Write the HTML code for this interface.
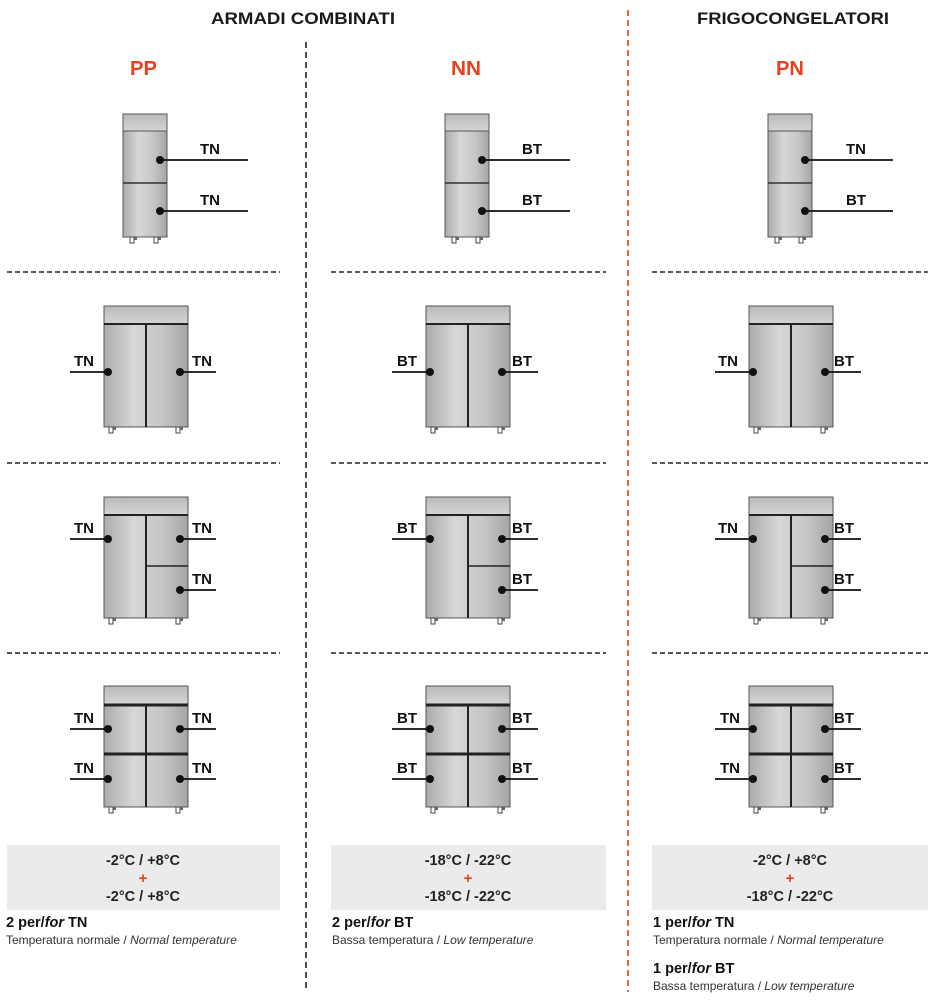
<!DOCTYPE html>
<html><head><meta charset="utf-8"><style>
html,body{margin:0;padding:0;background:#fff;width:934px;height:1000px;overflow:hidden}
svg{display:block}
text{font-family:"Liberation Sans",Arial,sans-serif;font-weight:bold}
.h{font-size:17px;fill:#1a1a1a}
.r{font-size:20px;fill:#e8401c}
.l{font-size:15px;fill:#111}
.t{font-size:14.5px;fill:#222;text-anchor:middle}
.p{font-size:15px;fill:#e8401c;text-anchor:middle}
.b{font-size:14.5px;fill:#111}
.s{font-size:12px;font-weight:normal;fill:#333}
</style></head><body>
<svg width="934" height="1000" viewBox="0 0 934 1000" xmlns="http://www.w3.org/2000/svg">
<defs>
<linearGradient id="g" x1="0" x2="1" y1="0" y2="0">
<stop offset="0" stop-color="#a9abad"/><stop offset="0.35" stop-color="#d6d7d9"/><stop offset="0.7" stop-color="#c4c5c7"/><stop offset="1" stop-color="#a3a5a7"/>
</linearGradient>
<linearGradient id="gt" x1="0" x2="0" y1="0" y2="1">
<stop offset="0" stop-color="#b9babc"/><stop offset="1" stop-color="#d3d4d6"/>
</linearGradient>
<g id="foot"><rect x="0" y="0" width="4" height="6" fill="#fff" stroke="#444" stroke-width="1"/><rect x="4" y="0" width="3" height="3" fill="#666"/></g>
<g id="c1">
<rect x="123" y="114" width="44" height="123" fill="url(#g)" stroke="#555" stroke-width="1"/>
<rect x="123" y="114" width="44" height="17" fill="url(#gt)" stroke="#555" stroke-width="1"/>
<line x1="123" y1="183" x2="167" y2="183" stroke="#333" stroke-width="1.5"/>
<use href="#foot" x="130" y="237"/><use href="#foot" x="154" y="237"/>
<line x1="160" y1="160" x2="248" y2="160" stroke="#111" stroke-width="1.8"/>
<line x1="160" y1="211" x2="248" y2="211" stroke="#111" stroke-width="1.8"/>
<circle cx="160" cy="160" r="4" fill="#111"/><circle cx="160" cy="211" r="4" fill="#111"/>
</g>
<g id="c2">
<rect x="104" y="306" width="84" height="121" fill="url(#g)" stroke="#555" stroke-width="1"/>
<rect x="104" y="306" width="84" height="18" fill="url(#gt)" stroke="#555" stroke-width="1"/>
<line x1="104" y1="324" x2="188" y2="324" stroke="#222" stroke-width="2"/>
<line x1="146" y1="324" x2="146" y2="427" stroke="#222" stroke-width="2"/>
<use href="#foot" x="109" y="427"/><use href="#foot" x="176" y="427"/>
<line x1="70" y1="372" x2="108" y2="372" stroke="#111" stroke-width="1.8"/>
<line x1="180" y1="372" x2="216" y2="372" stroke="#111" stroke-width="1.8"/>
<circle cx="108" cy="372" r="4" fill="#111"/><circle cx="180" cy="372" r="4" fill="#111"/>
</g>
<g id="c3">
<rect x="104" y="497" width="84" height="121" fill="url(#g)" stroke="#555" stroke-width="1"/>
<rect x="104" y="497" width="84" height="18" fill="url(#gt)" stroke="#555" stroke-width="1"/>
<line x1="104" y1="515" x2="188" y2="515" stroke="#222" stroke-width="2"/>
<line x1="146" y1="515" x2="146" y2="618" stroke="#222" stroke-width="2"/>
<line x1="146" y1="566" x2="188" y2="566" stroke="#222" stroke-width="1.5"/>
<use href="#foot" x="109" y="618"/><use href="#foot" x="176" y="618"/>
<line x1="70" y1="539" x2="108" y2="539" stroke="#111" stroke-width="1.8"/>
<line x1="180" y1="539" x2="216" y2="539" stroke="#111" stroke-width="1.8"/>
<line x1="180" y1="590" x2="216" y2="590" stroke="#111" stroke-width="1.8"/>
<circle cx="108" cy="539" r="4" fill="#111"/><circle cx="180" cy="539" r="4" fill="#111"/><circle cx="180" cy="590" r="4" fill="#111"/>
</g>
<g id="c4">
<rect x="104" y="686" width="84" height="121" fill="url(#g)" stroke="#555" stroke-width="1"/>
<rect x="104" y="686" width="84" height="18" fill="url(#gt)" stroke="#555" stroke-width="1"/>
<line x1="104" y1="705" x2="188" y2="705" stroke="#222" stroke-width="3"/>
<line x1="104" y1="754" x2="188" y2="754" stroke="#222" stroke-width="3"/>
<line x1="146" y1="705" x2="146" y2="807" stroke="#222" stroke-width="2"/>
<use href="#foot" x="109" y="807"/><use href="#foot" x="176" y="807"/>
<line x1="70" y1="729" x2="108" y2="729" stroke="#111" stroke-width="1.8"/>
<line x1="180" y1="729" x2="216" y2="729" stroke="#111" stroke-width="1.8"/>
<line x1="70" y1="779" x2="108" y2="779" stroke="#111" stroke-width="1.8"/>
<line x1="180" y1="779" x2="216" y2="779" stroke="#111" stroke-width="1.8"/>
<circle cx="108" cy="729" r="4" fill="#111"/><circle cx="180" cy="729" r="4" fill="#111"/>
<circle cx="108" cy="779" r="4" fill="#111"/><circle cx="180" cy="779" r="4" fill="#111"/>
</g>
</defs>

<text class="h" x="211" y="24" textLength="184" lengthAdjust="spacingAndGlyphs">ARMADI COMBINATI</text>
<text class="h" x="697" y="24" textLength="192" lengthAdjust="spacingAndGlyphs">FRIGOCONGELATORI</text>
<text class="r" x="130" y="75" textLength="27" lengthAdjust="spacingAndGlyphs">PP</text>
<text class="r" x="451" y="75" textLength="30" lengthAdjust="spacingAndGlyphs">NN</text>
<text class="r" x="776" y="75" textLength="28" lengthAdjust="spacingAndGlyphs">PN</text>

<line x1="306" y1="42" x2="306" y2="992" stroke="#222" stroke-width="1.6" stroke-dasharray="6,4"/>
<line x1="628" y1="10" x2="628" y2="992" stroke="#e85a20" stroke-width="1.8" stroke-dasharray="6,4"/>

<g stroke="#222" stroke-width="1.5" stroke-dasharray="5,3">
<line x1="7" y1="272" x2="280" y2="272"/><line x1="331" y1="272" x2="606" y2="272"/><line x1="652" y1="272" x2="928" y2="272"/>
<line x1="7" y1="463" x2="280" y2="463"/><line x1="331" y1="463" x2="606" y2="463"/><line x1="652" y1="463" x2="928" y2="463"/>
<line x1="7" y1="653" x2="280" y2="653"/><line x1="331" y1="653" x2="606" y2="653"/><line x1="652" y1="653" x2="928" y2="653"/>
</g>

<use href="#c1"/><use href="#c2"/><use href="#c3"/><use href="#c4"/>
<g transform="translate(322,0)"><use href="#c1"/><use href="#c2"/><use href="#c3"/><use href="#c4"/></g>
<g transform="translate(645,0)"><use href="#c1"/><use href="#c2"/><use href="#c3"/><use href="#c4"/></g>

<text class="l" x="200" y="154">TN</text><text class="l" x="200" y="205">TN</text>
<text class="l" x="74" y="366">TN</text><text class="l" x="192" y="366">TN</text>
<text class="l" x="74" y="533">TN</text><text class="l" x="192" y="533">TN</text><text class="l" x="192" y="584">TN</text>
<text class="l" x="74" y="723">TN</text><text class="l" x="192" y="723">TN</text><text class="l" x="74" y="773">TN</text><text class="l" x="192" y="773">TN</text>
<text class="l" x="522" y="154">BT</text><text class="l" x="522" y="205">BT</text>
<text class="l" x="397" y="366">BT</text><text class="l" x="512" y="366">BT</text>
<text class="l" x="397" y="533">BT</text><text class="l" x="512" y="533">BT</text><text class="l" x="512" y="584">BT</text>
<text class="l" x="397" y="723">BT</text><text class="l" x="512" y="723">BT</text><text class="l" x="397" y="773">BT</text><text class="l" x="512" y="773">BT</text>
<text class="l" x="846" y="154">TN</text><text class="l" x="846" y="205">BT</text>
<text class="l" x="718" y="366">TN</text><text class="l" x="834" y="366">BT</text>
<text class="l" x="718" y="533">TN</text><text class="l" x="834" y="533">BT</text><text class="l" x="834" y="584">BT</text>
<text class="l" x="720" y="723">TN</text><text class="l" x="834" y="723">BT</text><text class="l" x="720" y="773">TN</text><text class="l" x="834" y="773">BT</text>

<rect x="7" y="845" width="273" height="65" fill="#ebebeb"/>
<rect x="331" y="845" width="275" height="65" fill="#ebebeb"/>
<rect x="652" y="845" width="276" height="65" fill="#ebebeb"/>
<text class="t" x="143" y="865">-2°C / +8°C</text><text class="p" x="143" y="883">+</text><text class="t" x="143" y="901">-2°C / +8°C</text>
<text class="t" x="468" y="865">-18°C / -22°C</text><text class="p" x="468" y="883">+</text><text class="t" x="468" y="901">-18°C / -22°C</text>
<text class="t" x="790" y="865">-2°C / +8°C</text><text class="p" x="790" y="883">+</text><text class="t" x="790" y="901">-18°C / -22°C</text>

<text class="b" x="6" y="927">2 per/<tspan font-style="italic">for</tspan> TN</text>
<text class="s" x="6" y="944">Temperatura normale / <tspan font-style="italic">Normal temperature</tspan></text>
<text class="b" x="332" y="927">2 per/<tspan font-style="italic">for</tspan> BT</text>
<text class="s" x="332" y="944">Bassa temperatura / <tspan font-style="italic">Low temperature</tspan></text>
<text class="b" x="653" y="927">1 per/<tspan font-style="italic">for</tspan> TN</text>
<text class="s" x="653" y="944">Temperatura normale / <tspan font-style="italic">Normal temperature</tspan></text>
<text class="b" x="653" y="973">1 per/<tspan font-style="italic">for</tspan> BT</text>
<text class="s" x="653" y="990">Bassa temperatura / <tspan font-style="italic">Low temperature</tspan></text>
</svg>
</body></html>
